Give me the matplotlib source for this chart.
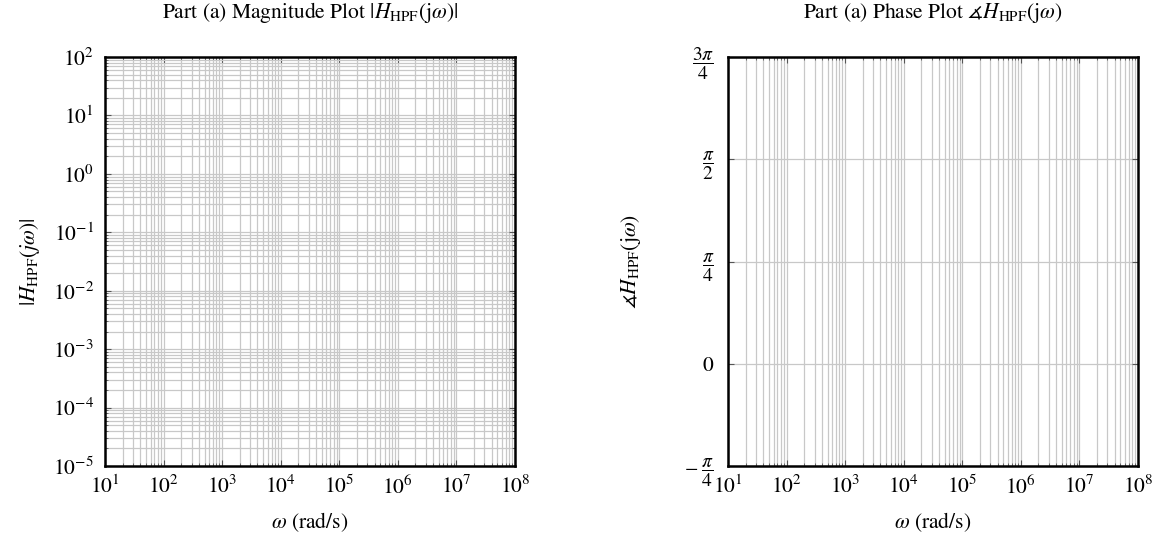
import numpy as np
import matplotlib
matplotlib.use("Agg")
import matplotlib.pyplot as plt
import matplotlib.ticker as mticker

# Axis ranges and tick labels
omega_lim = [1e1, 1e8]
mag_lim = [1e-5, 1e2]
phase_ticks = [-np.pi / 4, 0, np.pi / 4, np.pi / 2, 3 * np.pi / 4]
phase_labels = [r"$-\;\dfrac{\pi}{4}$", r"$0$", r"$\dfrac{\pi}{4}$",
                r"$\dfrac{\pi}{2}$", r"$\dfrac{3\pi}{4}$"]

titles = [r"Part (a) Magnitude Plot $|H_{\mathrm{HPF}}(\mathrm{j}\omega)|$",
          r"Part (a) Phase Plot $\measuredangle H_{\mathrm{HPF}}(\mathrm{j}\omega)$"]
ylabels = [r"$|H_{\mathrm{HPF}}(j\omega)|$",
           r"$\measuredangle H_{\mathrm{HPF}}(\mathrm{j}\omega)$"]
xlabel = r"$\omega$ (rad/s)"

plt.rcParams["font.family"] = "STIXGeneral"
plt.rcParams["mathtext.fontset"] = "stix"
fs = 15.5

fig = plt.figure(figsize=(11.57, 5.37), dpi=100)
# axes boxes: x 105-515 / 728-1138 px, y 57-466 px
ax1 = fig.add_axes([105 / 1157, 1 - 466 / 537, 410 / 1157, 409 / 537])
ax2 = fig.add_axes([728 / 1157, 1 - 466 / 537, 410 / 1157, 409 / 537])

grid_col = "#c8c8c8"

for ax in (ax1, ax2):
    ax.set_xscale("log")
    ax.set_xlim(omega_lim)
    ax.xaxis.set_major_locator(mticker.LogLocator(base=10, numticks=20))
    ax.xaxis.set_minor_locator(mticker.LogLocator(base=10, subs=np.arange(2, 10), numticks=20))
    ax.xaxis.set_minor_formatter(mticker.NullFormatter())
    ax.tick_params(which="both", direction="in", top=True, right=True, color="#555555")
    ax.tick_params(which="major", length=4, width=0.8, labelsize=fs)
    ax.tick_params(which="minor", length=2.5, width=0.6)
    ax.tick_params(axis="x", which="major", pad=7)
    ax.tick_params(axis="y", which="major", pad=8)
    ax.grid(True, which="major", axis="both", color=grid_col, lw=0.9)
    ax.grid(True, which="minor", axis="x", color=grid_col, lw=0.9)
    ax.set_axisbelow(True)
    for s in ax.spines.values():
        s.set_linewidth(1.8)
        s.set_color("black")
    ax.set_xlabel(xlabel, fontsize=fs, labelpad=8)

# Magnitude plot
ax1.set_yscale("log")
ax1.set_ylim(mag_lim)
ax1.yaxis.set_major_locator(mticker.LogLocator(base=10, numticks=20))
ax1.yaxis.set_minor_locator(mticker.LogLocator(base=10, subs=np.arange(2, 10), numticks=20))
ax1.yaxis.set_minor_formatter(mticker.NullFormatter())
ax1.grid(True, which="minor", axis="y", color=grid_col, lw=0.9)
ax1.set_title(titles[0], fontsize=fs, pad=28)
ax1.set_ylabel(ylabels[0], fontsize=fs, labelpad=8)

# Phase plot
ax2.set_ylim(phase_ticks[0], phase_ticks[-1])
ax2.set_yticks(phase_ticks)
ax2.set_yticklabels(phase_labels, fontsize=14)
ax2.get_yticklabels()[1].set_fontsize(fs)
ax2.tick_params(axis="y", which="major", pad=10)
ax2.set_title(titles[1], fontsize=fs, pad=28)
ax2.set_ylabel(ylabels[1], fontsize=fs, labelpad=30)

fig.savefig("out.png", dpi=100)
